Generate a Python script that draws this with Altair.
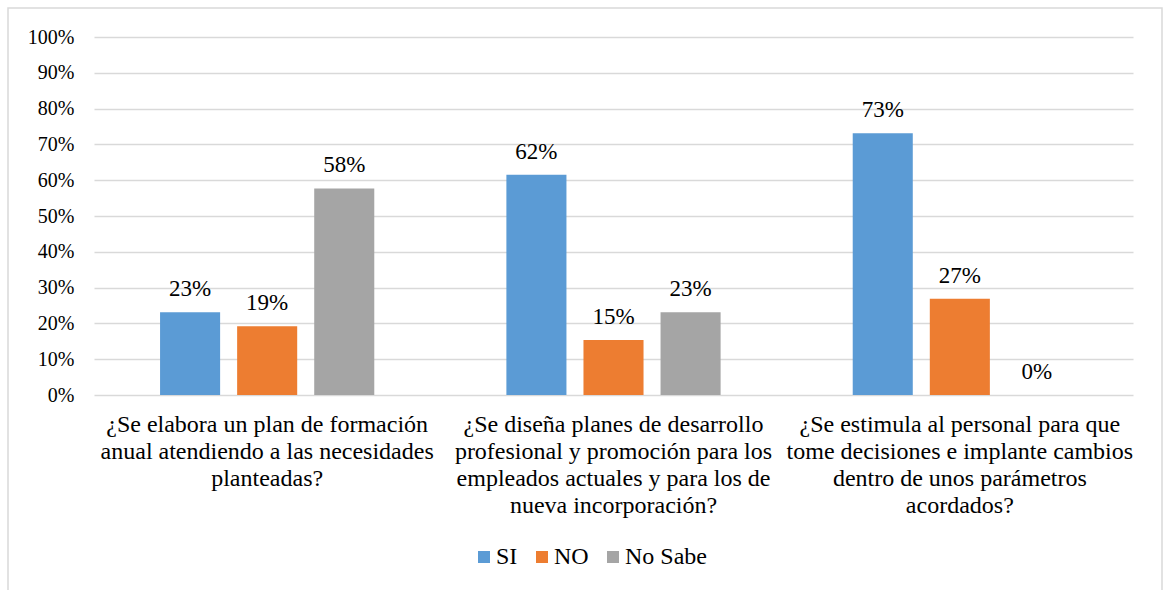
import altair as alt
import pandas as pd

questions = [
    "¿Se elabora un plan de formación|anual atendiendo a las necesidades|planteadas?",
    "¿Se diseña planes de desarrollo|profesional y promoción para los|empleados actuales y para los de|nueva incorporación?",
    "¿Se estimula al personal para que|tome decisiones e implante cambios|dentro de unos parámetros|acordados?",
]
series = ["SI", "NO", "No Sabe"]
si_values = [0.2308, 0.6154, 0.7308]
no_values = [0.1923, 0.1538, 0.2692]
nosabe_values = [0.5769, 0.2308, 0.0]
colors = ["#5B9BD5", "#ED7D31", "#A5A5A5"]
y_ticks = [0.0, 0.1, 0.2, 0.3, 0.4, 0.5, 0.6, 0.7, 0.8, 0.9, 1.0]

rows = []
for s, vals in zip(series, [si_values, no_values, nosabe_values]):
    for q, v in zip(questions, vals):
        rows.append({"q": q, "s": s, "v": v})
df = pd.DataFrame(rows)

FONT = "Liberation Serif"

base = alt.Chart(df).encode(
    x=alt.X(
        "q:N", sort=questions,
        scale=alt.Scale(paddingInner=0, paddingOuter=0),
        axis=alt.Axis(title=None, labelAngle=0, labelExpr="split(datum.label, '|')",
                      labelFontSize=24, labelLineHeight=27, labelPadding=17,
                      ticks=False, domain=False, labelLimit=0, grid=False),
    ),
    xOffset=alt.XOffset("s:N", sort=series,
                        scale=alt.Scale(paddingInner=0.2208, paddingOuter=0.857)),
    y=alt.Y(
        "v:Q", scale=alt.Scale(domain=[0, 1], nice=False),
        axis=alt.Axis(title=None, values=y_ticks, format=".0%", ticks=False, domain=False,
                      labelFontSize=20, labelPadding=20, labelOverlap=False,
                      labelFlush=False, gridColor="#d9d9d9", gridWidth=1.5),
    ),
)

bars = base.mark_bar().encode(
    color=alt.Color("s:N", sort=series,
                    scale=alt.Scale(domain=series, range=colors),
                    legend=alt.Legend(title=None, orient="none", direction="horizontal",
                                      legendX=378, legendY=508, symbolType="square",
                                      symbolSize=144, symbolStrokeWidth=0,
                                      labelFontSize=24, labelOffset=0, columnPadding=12)),
)

labels = base.mark_text(baseline="bottom", dy=-11, fontSize=23, color="#000").encode(
    text=alt.Text("v:Q", format=".0%"),
)

frame = alt.Chart(pd.DataFrame({"a": [0]})).mark_rect(
    fill=None, stroke="#d9d9d9", strokeWidth=1.5).encode(
    x=alt.value(-86), x2=alt.value(1068), y=alt.value(-29), y2=alt.value(600),
)

chart = alt.layer(frame, bars, labels).properties(
    width=1039, height=358,
    padding={"left": 94, "top": 37, "right": 32, "bottom": 195},
    autosize=alt.AutoSizeParams(type="none"),
    background="white",
).configure(font=FONT).configure_axis(
    labelFont=FONT, labelColor="#000"
).configure_legend(labelFont=FONT, labelColor="#000").configure_text(
    font=FONT
).configure_view(stroke=None)

chart.save("out.html", embed_options={"renderer": "svg", "actions": False})
